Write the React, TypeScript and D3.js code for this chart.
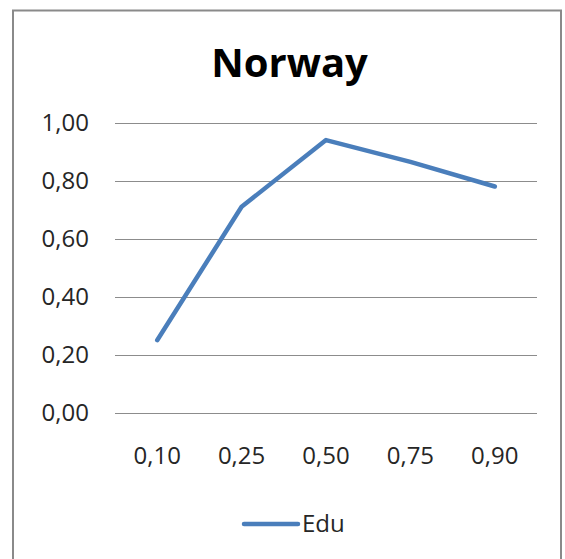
import React from "react";
import * as d3 from "d3";

// Quantile levels on the x axis and the Edu series at each level
const categories = ["0,10", "0,25", "0,50", "0,75", "0,90"];
const eduValues = [0.25, 0.71, 0.94, 0.865, 0.78];
const yTicks = [0, 0.2, 0.4, 0.6, 0.8, 1.0];
const seriesName = "Edu";
const chartTitle = "Norway";

const W = 565;
const H = 559;
const plot = { left: 115, right: 537, top: 122.7, bottom: 412.7 };
const FONT = "'Open Sans', sans-serif";
const LINE_COLOR = "#4A7EBB";

const fmt = (v: number) => v.toFixed(2).replace(".", ",");

export default function App() {
  const x = d3
    .scaleBand<string>()
    .domain(categories)
    .range([plot.left, plot.right])
    .paddingInner(0)
    .paddingOuter(0);
  const y = d3.scaleLinear().domain([0, 1]).range([plot.bottom, plot.top]);

  const line = d3
    .line<number>()
    .x((_, i) => (x(categories[i]) as number) + x.bandwidth() / 2)
    .y((d) => y(d));

  return (
    <div style={{ position: "absolute", left: 0, top: 0 }}>
      <svg width={W} height={H} style={{ display: "block" }}>
        <rect x={0} y={0} width={W} height={H} fill="#fff" />
        <rect
          x={13}
          y={10.5}
          width={548}
          height={600}
          fill="#fff"
          stroke="#8a8a8a"
          strokeWidth={2}
        />
        <text
          x={289.5}
          y={76.5}
          textAnchor="middle"
          fontFamily={FONT}
          fontWeight={700}
          fontSize={40}
          fill="#000"
        >
          {chartTitle}
        </text>
        {yTicks.map((t) => (
          <g key={t}>
            <line
              x1={plot.left}
              x2={plot.right}
              y1={Math.round(y(t)) + 0.5}
              y2={Math.round(y(t)) + 0.5}
              stroke="#8c8c8c"
              strokeWidth={1.2}
            />
            <text
              x={89}
              y={y(t)}
              dy="0.35em"
              textAnchor="end"
              fontFamily={FONT}
              fontSize={24}
              fill="#262626"
            >
              {fmt(t)}
            </text>
          </g>
        ))}
        {categories.map((c) => (
          <text
            key={c}
            x={(x(c) as number) + x.bandwidth() / 2}
            y={464.3}
            textAnchor="middle"
            fontFamily={FONT}
            fontSize={24}
            fill="#262626"
          >
            {c}
          </text>
        ))}
        <path
          d={line(eduValues) || ""}
          fill="none"
          stroke={LINE_COLOR}
          strokeWidth={4.5}
          strokeLinejoin="round"
          strokeLinecap="round"
        />
        <line
          x1={244}
          x2={298}
          y1={524}
          y2={524}
          stroke={LINE_COLOR}
          strokeWidth={4.5}
          strokeLinecap="round"
        />
        <text
          x={302}
          y={532.3}
          fontFamily={FONT}
          fontSize={24}
          fill="#262626"
        >
          {seriesName}
        </text>
      </svg>
    </div>
  );
}
